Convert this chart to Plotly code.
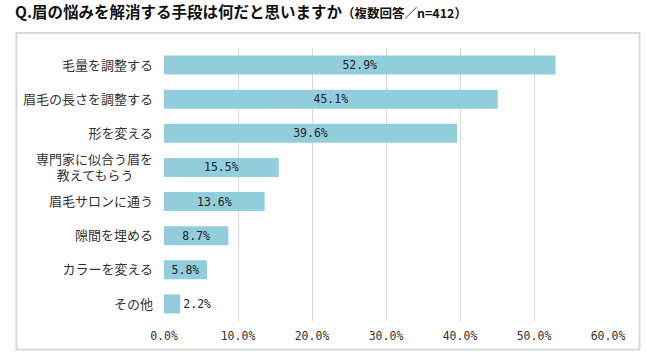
import plotly.graph_objects as go

categories = ["毛量を調整する", "眉毛の長さを調整する", "形を変える", "専門家に似合う眉を\n教えてもらう",
              "眉毛サロンに通う", "隙間を埋める", "カラーを変える", "その他"]
values = [52.9, 45.1, 39.6, 15.5, 13.6, 8.7, 5.8, 2.2]
x_ticks = [0, 10, 20, 30, 40, 50, 60]
x_ticktext = ["0.0%", "10.0%", "20.0%", "30.0%", "40.0%", "50.0%", "60.0%"]
title_main = "Q.眉の悩みを解消する手段は何だと思いますか"
title_sub = "（複数回答／n=412）"

W, H = 647, 356
L, R, T, B = 164, 39, 47.5, 34.5


def centered(label):
    lines = label.split("\n")
    m = max(len(s) for s in lines)
    out = []
    for s in lines:
        pad = (m - len(s)) / 2
        full = int(pad)
        s2 = s + "\u3000" * full + ("\u2002" if pad - full >= 0.5 else "")
        out.append(s2)
    return "<br>".join(out)


ticktext = [centered(c) for c in categories]
textpos = ["inside" if v > 4 else "outside" for v in values]

fig = go.Figure(go.Bar(
    y=categories, x=values, orientation="h",
    marker=dict(color="#92CDDC", line=dict(width=0)),
    texttemplate="%{x:.1f}%", textposition=textpos, insidetextanchor="middle",
    constraintext="none", cliponaxis=False,
    textfont=dict(family="DejaVu Sans Mono", size=11.5, color="#222222"),
    hoverinfo="skip",
))


def px_x(p):
    return (p - L) / (W - L - R)


def px_y(p):
    return 1 - (p - T) / (H - T - B)


fig.add_shape(type="rect", xref="paper", yref="paper",
              x0=px_x(16.5), x1=px_x(639.5), y0=px_y(350), y1=px_y(32.5),
              line=dict(color="#D9D9D9", width=2), layer="below")

fig.update_layout(
    width=W, height=H,
    margin=dict(l=L, r=R, t=T, b=B, autoexpand=False),
    paper_bgcolor="white", plot_bgcolor="white",
    bargap=0.44, showlegend=False,
    title=dict(
        text=f"<b>{title_main}</b><span style='font-size:12.5px'><b>{title_sub}</b></span>",
        xref="container", yref="container", x=15 / W, xanchor="left",
        y=1 - 13 / H, yanchor="middle",
        font=dict(family="Noto Sans CJK JP", size=15.5, color="#111111"),
    ),
    xaxis=dict(range=[0, 60], tickvals=x_ticks, ticktext=x_ticktext,
               showgrid=True, gridcolor="#D9D9D9", gridwidth=1, zeroline=False,
               showline=False, ticks="", ticklabelstandoff=6,
               tickfont=dict(family="DejaVu Sans Mono", size=11.5, color="#333333")),
    yaxis=dict(autorange="reversed", tickvals=categories, ticktext=ticktext,
               showgrid=False, zeroline=False, showline=False, ticks="",
               ticklabelstandoff=10,
               tickfont=dict(family="Noto Sans CJK JP", size=13, color="#333333")),
)

fig.write_html("out.html", config={"displayModeBar": False},
               post_script="document.body.style.margin='0';document.body.style.overflow='hidden';")
